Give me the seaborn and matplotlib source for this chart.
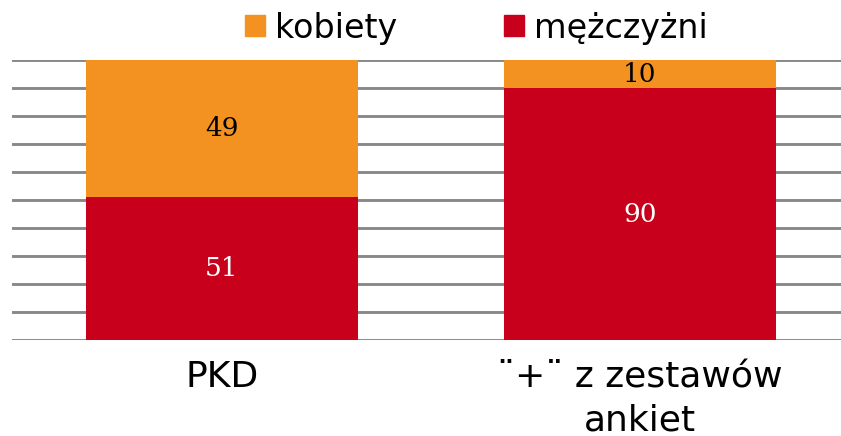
import matplotlib
matplotlib.use("Agg")
import matplotlib.pyplot as plt
import matplotlib.patches as mpatches
import numpy as np
import pandas as pd
import seaborn as sns

# dane
kategorie = ["PKD", "¨+¨ z zestawów\nankiet"]
kobiety = [49, 10]
mezczyzni = [51, 90]

kolor_k = "#F39220"
kolor_m = "#C8001B"

sns.set_style("white")
plt.rcParams['font.family'] = ['DejaVu Sans']
plt.rcParams['text.color'] = 'black'
plt.rcParams['xtick.color'] = 'black'

df = pd.DataFrame({"kat": kategorie, "kobiety": kobiety, "mezczyzni": mezczyzni})
df["razem"] = df["kobiety"] + df["mezczyzni"]

fig = plt.figure(figsize=(8.41, 4.36), dpi=100)
ax = fig.add_axes([12/841, 1 - 340/436, 1 - 12/841, 280/436])

# stos: najpierw calosc (kobiety na gorze), potem mezczyzni od dolu
sns.barplot(data=df, x="kat", y="razem", color=kolor_k, saturation=1,
            width=0.65, ax=ax, zorder=3, linewidth=0, edgecolor="none")
sns.barplot(data=df, x="kat", y="mezczyzni", color=kolor_m, saturation=1,
            width=0.65, ax=ax, zorder=3, linewidth=0, edgecolor="none")

ax.set_ylim(0, 100)
ax.set_xlim(-0.502, 1.481)
ax.set_yticks(np.arange(0, 101, 10))
ax.yaxis.grid(True, color="#888888", linewidth=2.1, zorder=0)
ax.set_axisbelow(True)
ax.tick_params(axis="y", left=False, labelleft=False)
ax.tick_params(axis="x", bottom=False, labelsize=26, pad=11, labelcolor="black")
for lab in ax.get_xticklabels():
    lab.set_linespacing(1.35)
for s in ax.spines.values():
    s.set_visible(False)
ax.set_xlabel("")
ax.set_ylabel("")

# etykiety wartosci
for i in range(len(kategorie)):
    ax.text(i, mezczyzni[i] + kobiety[i] / 2, str(kobiety[i]), ha="center", va="center",
            fontsize=19, family="DejaVu Serif", color="black", zorder=5)
    ax.text(i, mezczyzni[i] / 2, str(mezczyzni[i]), ha="center", va="center",
            fontsize=19, family="DejaVu Serif", color="white", zorder=5)

uchwyty = [mpatches.Patch(color=kolor_k, label="kobiety"),
           mpatches.Patch(color=kolor_m, label="mężczyżni")]
fig.legend(handles=uchwyty, loc="center", bbox_to_anchor=(476/841, 1 - 28/436),
           ncol=2, frameon=False, fontsize=24, handlelength=0.6, handleheight=0.6,
           handletextpad=0.3, columnspacing=3.2, borderpad=0)

fig.savefig("out.png", dpi=100)
